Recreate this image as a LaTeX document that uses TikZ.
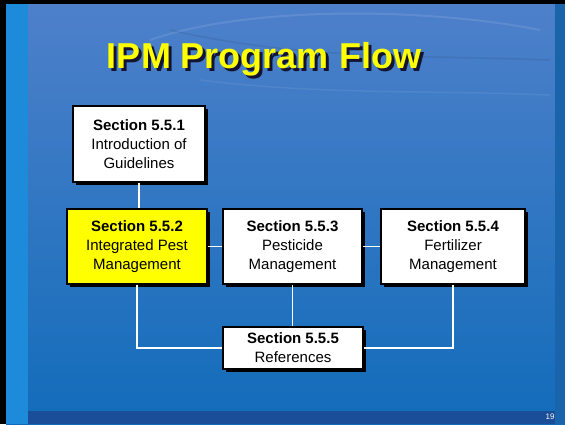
\documentclass[tikz,border=0pt]{standalone}
\usepackage{fontspec}
\setmainfont{Liberation Sans}
\usepackage{xcolor}
\usetikzlibrary{shadows}

\definecolor{seatop}{RGB}{78,128,202}
\definecolor{seamid}{RGB}{50,144,214}
\definecolor{seabot}{RGB}{18,108,186}
\definecolor{seastripe}{RGB}{30,138,218}
\definecolor{seaedge}{RGB}{26,100,172}
\definecolor{seafoot}{RGB}{26,78,152}
\definecolor{titleyellow}{RGB}{255,255,0}
\definecolor{titleshadow}{RGB}{20,20,50}
\definecolor{boxyellow}{RGB}{255,255,0}

\newcommand{\shadowtext}[1]{\rlap{\hspace{3pt}\raisebox{-3pt}{\textcolor{titleshadow}{#1}}}\textcolor{titleyellow}{#1}}

\begin{document}
\begin{tikzpicture}[x=1pt, y=-1pt,
  secbox/.style={draw=black, line width=1.6pt, fill=white, align=center,
    inner sep=0pt, minimum height=75pt,
    font=\fontsize{15}{19}\selectfont,
    drop shadow={shadow xshift=3pt, shadow yshift=-3pt, fill=black, opacity=1}},
  link/.style={draw=white, line width=1.5pt}]
\useasboundingbox (0,0) rectangle (565,424);
\fill[black] (0,0) rectangle (565,424);
\shade[top color=seatop, middle color=seamid, bottom color=seabot] (6,4) rectangle (565,424);
\fill[seastripe] (6,4) rectangle (28,424);
\fill[seaedge] (555,4) rectangle (565,424);
\fill[seafoot] (28,411) rectangle (555,424);
\draw[white, opacity=0.10, line width=2pt] (150,40) .. controls (250,5) and (430,8) .. (540,30);
\draw[black, opacity=0.08, line width=1.5pt] (170,30) .. controls (300,60) and (420,55) .. (550,60);
\draw[white, opacity=0.07, line width=1.5pt] (200,80) .. controls (320,95) and (430,90) .. (550,95);

\node[font=\fontsize{36}{40}\bfseries] (title) at (264,61) {\shadowtext{IPM Program Flow}};

\node[secbox, minimum width=132pt, minimum height=76pt] (s1) at (139,144)
  {\textbf{Section 5.5.1}\\Introduction of\\Guidelines};
\node[secbox, fill=boxyellow, minimum width=140pt] (s2) at (137,246.5)
  {\textbf{Section 5.5.2}\\Integrated Pest\\Management};
\node[secbox, minimum width=139pt] (s3) at (292.5,246.5)
  {\textbf{Section 5.5.3}\\Pesticide\\Management};
\node[secbox, minimum width=144pt] (s4) at (453,246.5)
  {\textbf{Section 5.5.4}\\Fertilizer\\Management};
\node[secbox, minimum width=140pt, minimum height=42pt] (s5) at (293,348)
  {\textbf{Section 5.5.5}\\References};

\draw[link] (s1.south) -- (s1.south |- s2.north);
\draw[link] (s2.east) -- (s3.west);
\draw[link] (s3.east) -- (s4.west);
\draw[link] (s3.south) -- (s3.south |- s5.north);
\draw[link] (s2.south) |- (s5.west);
\draw[link] (s4.south) |- (s5.east);

\node[font=\fontsize{8}{9}\selectfont, text=white] (pageno) at (550,417) {19};
\end{tikzpicture}
\end{document}
